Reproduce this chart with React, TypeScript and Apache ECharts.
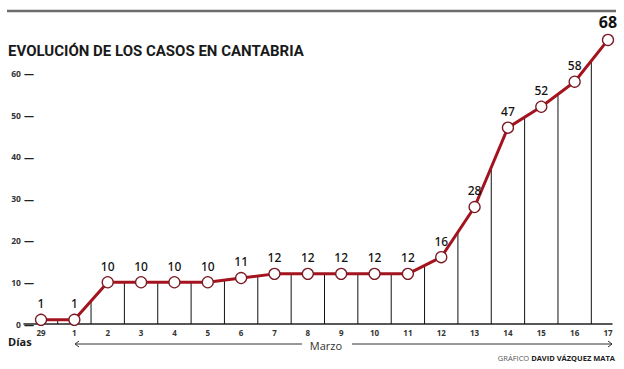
import React, { useEffect, useRef } from "react";
import * as echarts from "echarts";

const xLabels = ["29", "1", "2", "3", "4", "5", "6", "7", "8", "9", "10", "11", "12", "13", "14", "15", "16", "17"];
const cases = [1, 1, 10, 10, 10, 10, 11, 12, 12, 12, 12, 12, 16, 28, 47, 52, 58, 68];

const TITLE = "EVOLUCIÓN DE LOS CASOS EN CANTABRIA";
const RED = "#a3141f";
const FONT = "'Open Sans', 'Noto Sans', sans-serif";
const X_MIN = -0.51;

export default function App() {
  const ref = useRef<HTMLDivElement>(null);
  useEffect(() => {
    if (!ref.current) return;
    const chart = echarts.init(ref.current, null, { renderer: "svg" });
    const lineData = cases.map((v, i) => {
      const item: any = { value: [i, v] };
      if (i === cases.length - 1) {
        item.label = { fontSize: 16, fontWeight: "bold", color: "#111", distance: 4 };
      }
      return item;
    });
    const mids = cases.slice(0, -1).map((v, i) => [i + 0.5, (v + cases[i + 1]) / 2]);
    chart.setOption({
      animation: false,
      backgroundColor: "#ffffff",
      textStyle: { fontFamily: FONT },
      grid: { left: 24, right: 12, top: 32, bottom: 45, containLabel: false },
      xAxis: {
        type: "value",
        min: X_MIN,
        max: 17.12,
        splitLine: { show: false },
        axisLine: { show: true, lineStyle: { color: "#222", width: 1.5 } },
        axisTick: { show: false },
        axisLabel: {
          customValues: xLabels.map((_, i) => i),
          formatter: (v: number) => xLabels[Math.round(v)] ?? "",
          fontSize: 8,
          fontWeight: "bold",
          color: "#333",
          margin: 4,
          fontFamily: FONT,
        },
      },
      yAxis: {
        type: "value",
        min: 0,
        max: 69.9,
        interval: 10,
        splitLine: { show: false },
        axisLine: { show: false },
        axisTick: { show: false },
        axisLabel: {
          formatter: (v: number) => `{n|${v}} {d|—}`,
          margin: -10,
          showMaxLabel: false,
          rich: {
            n: { fontSize: 8.5, fontWeight: "bold", color: "#333", fontFamily: FONT },
            d: { fontSize: 10, fontWeight: "bold", color: "#222", fontFamily: FONT },
          },
        },
      },
      series: [
        {
          type: "custom",
          data: mids,
          encode: { x: 0, y: 1 },
          z: 1,
          silent: true,
          renderItem: (params: any, api: any) => {
            const x = api.value(0);
            const y = api.value(1);
            const p0 = api.coord([x, 0]);
            const p1 = api.coord([x, y]);
            return {
              type: "line",
              shape: { x1: p0[0], y1: p0[1], x2: p1[0], y2: p1[1] },
              style: { stroke: "#111", lineWidth: 1 },
            };
          },
        },
        {
          type: "line",
          data: lineData,
          z: 3,
          symbol: "circle",
          symbolSize: 11,
          lineStyle: { color: RED, width: 3 },
          itemStyle: { color: "#ffffff", borderColor: "#7a1a22", borderWidth: 1.3 },
          label: {
            show: true,
            position: "top",
            distance: 4,
            fontSize: 12,
            color: "#111",
            fontFamily: "'Noto Sans', 'Open Sans', sans-serif",
            fontWeight: 500,
            formatter: (p: any) => String(p.value[1]),
          },
        },
      ],
      graphic: [
        {
          type: "line",
          shape: { x1: 7, y1: 11, x2: 616, y2: 11 },
          style: { stroke: "#6b6b6b", lineWidth: 2.5 },
        },
        {
          type: "text",
          x: 8,
          y: 43,
          style: {
            text: TITLE,
            fontSize: 15,
            fontWeight: "bold",
            fill: "#1a1a1a",
            fontFamily: "Roboto, sans-serif",
          },
        },
        {
          type: "text",
          x: 8,
          y: 336,
          style: { text: "Días", fontSize: 11, fontWeight: "bold", fill: "#1a1a1a", fontFamily: FONT },
        },
        {
          type: "line",
          shape: { x1: 75, y1: 344, x2: 302, y2: 344 },
          style: { stroke: "#333", lineWidth: 1 },
        },
        {
          type: "polyline",
          shape: { points: [[79, 341], [75, 344], [79, 347]] },
          style: { stroke: "#333", lineWidth: 1, fill: null },
        },
        {
          type: "text",
          x: 326,
          y: 345,
          style: {
            text: "Marzo",
            fontSize: 11,
            fill: "#333",
            align: "center",
            verticalAlign: "middle",
            fontFamily: FONT,
          },
        },
        {
          type: "line",
          shape: { x1: 352, y1: 344, x2: 612, y2: 344 },
          style: { stroke: "#333", lineWidth: 1 },
        },
        {
          type: "polyline",
          shape: { points: [[608, 341], [612, 344], [608, 347]] },
          style: { stroke: "#333", lineWidth: 1, fill: null },
        },
        {
          type: "text",
          x: 615,
          y: 358,
          style: {
            text: "{a|GRÁFICO }{b|DAVID VÁZQUEZ MATA}",
            align: "right",
            verticalAlign: "middle",
            rich: {
              a: { fontSize: 7.5, fill: "#555", fontFamily: FONT },
              b: { fontSize: 7.5, fontWeight: "bold", fill: "#222", fontFamily: FONT },
            },
          },
        },
      ],
    });
    return () => chart.dispose();
  }, []);
  return <div ref={ref} style={{ width: 624, height: 369, position: "absolute", left: 0, top: 0 }} />;
}
